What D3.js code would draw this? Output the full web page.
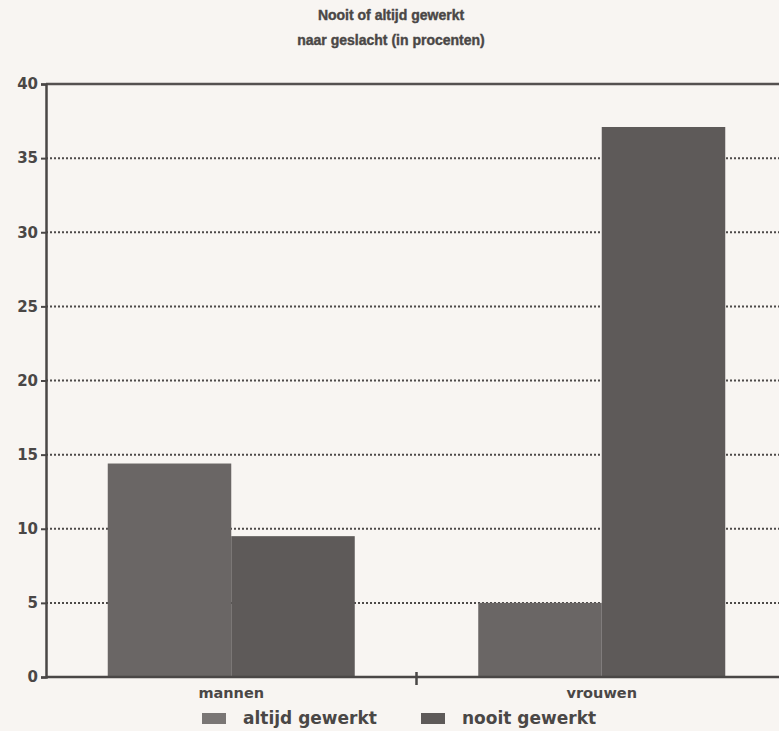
<!DOCTYPE html>
<html>
<head>
<meta charset="utf-8">
<script src="https://cdn.jsdelivr.net/npm/d3@7"></script>
<style>
  body { margin: 0; background: #f8f5f2; }
  text { font-family: "DejaVu Sans", sans-serif; font-weight: bold; fill: #4a4746; }
</style>
</head>
<body>
<div id="chart"></div>
<script>
// data
const categories = ["mannen", "vrouwen"];
const seriesNames = ["altijd gewerkt", "nooit gewerkt"];
const altijdValues = [14.4, 5.0];
const nooitValues = [9.5, 37.1];
const yTicks = [0, 5, 10, 15, 20, 25, 30, 35, 40];
const titleLines = ["Nooit of altijd gewerkt", "naar geslacht (in procenten)"];

const colors = {"altijd gewerkt": "#6a6665", "nooit gewerkt": "#5e5a59"};
const legendColors = {"altijd gewerkt": "#7a7675", "nooit gewerkt": "#5e5a59"};

const totalWidth = 779, totalHeight = 731;
const margin = {top: 84, right: 0, bottom: 54, left: 46},
    width = totalWidth - margin.left - margin.right,
    height = totalHeight - margin.top - margin.bottom;

const svg = d3.select("#chart")
  .append("svg")
    .attr("width", totalWidth)
    .attr("height", totalHeight)
    .style("background", "#f8f5f2");

const g = svg.append("g")
    .attr("transform", "translate(" + margin.left + "," + margin.top + ")");

// build table
const data = categories.map((c, i) => ({
  cat: c,
  values: [
    {key: seriesNames[0], value: altijdValues[i]},
    {key: seriesNames[1], value: nooitValues[i]}
  ]
}));

const x = d3.scaleBand()
  .domain(categories)
  .range([0, 741])
  .paddingInner(1/3)
  .paddingOuter(1/6);

const x1 = d3.scaleBand()
  .domain(seriesNames)
  .range([0, x.bandwidth()]);

const y = d3.scaleLinear()
  .domain([0, 40])
  .range([height, 0]);

// dotted grid
g.selectAll("line.grid")
  .data(yTicks.filter(t => t > 0 && t < 40))
  .enter().append("line")
    .attr("class", "grid")
    .attr("x1", 0)
    .attr("x2", width)
    .attr("y1", d => y(d))
    .attr("y2", d => y(d))
    .attr("stroke", "#4d4a49")
    .attr("stroke-width", 2)
    .attr("stroke-dasharray", "2,2");

// top line at 40
g.append("line")
  .attr("x1", 0).attr("x2", width)
  .attr("y1", y(40)).attr("y2", y(40))
  .attr("stroke", "#555150")
  .attr("stroke-width", 2.5);

// bars
const groups = g.selectAll("g.cat")
  .data(data)
  .enter().append("g")
    .attr("class", "cat")
    .attr("transform", d => "translate(" + x(d.cat) + ",0)");

groups.selectAll("rect")
  .data(d => d.values)
  .enter().append("rect")
    .attr("x", d => x1(d.key))
    .attr("y", d => y(d.value))
    .attr("width", x1.bandwidth())
    .attr("height", d => height - y(d.value))
    .attr("fill", d => colors[d.key]);

// y axis
const yAxis = g.append("g")
  .call(d3.axisLeft(y).tickValues(yTicks).tickSize(5).tickPadding(3));
yAxis.select(".domain").attr("stroke", "#4a4746").attr("stroke-width", 2.5);
yAxis.selectAll(".tick line").attr("stroke", "#4a4746").attr("stroke-width", 2);
yAxis.selectAll(".tick text")
  .style("font-size", "15px")
  .style("font-family", "'DejaVu Sans', sans-serif")
  .style("font-weight", "bold")
  .attr("fill", "#4a4746");

// x axis line
g.append("line")
  .attr("x1", 0).attr("x2", width)
  .attr("y1", height).attr("y2", height)
  .attr("stroke", "#4a4746")
  .attr("stroke-width", 2.5);

// separator tick between categories
const midX = (x(categories[0]) + x.bandwidth() + x(categories[1])) / 2;
g.append("line")
  .attr("x1", midX).attr("x2", midX)
  .attr("y1", height - 5).attr("y2", height + 8)
  .attr("stroke", "#4a4746")
  .attr("stroke-width", 2.5);

// category labels
g.selectAll("text.cat")
  .data(categories)
  .enter().append("text")
    .attr("class", "cat")
    .attr("x", d => x(d) + x.bandwidth() / 2)
    .attr("y", height + 21)
    .attr("text-anchor", "middle")
    .style("font-size", "14.5px")
    .text(d => d);

// title
svg.selectAll("text.title")
  .data(titleLines)
  .enter().append("text")
    .attr("class", "title")
    .attr("x", 391)
    .attr("y", (d, i) => 20 + i * 25)
    .attr("text-anchor", "middle")
    .style("font-family", "'Liberation Sans', Arial, sans-serif")
    .style("font-size", "14px")
    .attr("stroke", "#4a4746")
    .attr("stroke-width", 0.4)
    .text(d => d);

// legend
const legendX = [202, 421];
const legend = svg.selectAll("g.legend")
  .data(seriesNames)
  .enter().append("g")
    .attr("class", "legend")
    .attr("transform", (d, i) => "translate(" + legendX[i] + ",713)");

legend.append("rect")
  .attr("width", 24)
  .attr("height", 11)
  .attr("fill", d => legendColors[d]);

legend.append("text")
  .attr("x", 41)
  .attr("y", 11)
  .style("font-size", "17px")
  .text(d => d);
</script>
</body>
</html>
